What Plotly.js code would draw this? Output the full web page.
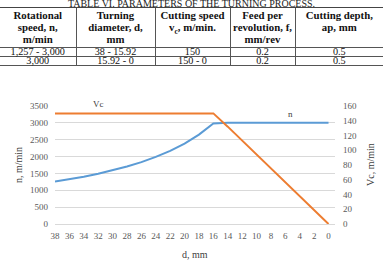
<!DOCTYPE html>
<html>
<head>
<meta charset="utf-8">
<script src="https://cdn.plot.ly/plotly-3.0.1.min.js"></script>
<style>
  html, body { margin: 0; padding: 0; background: #fff; }
  body { width: 383px; height: 262px; position: relative; overflow: hidden; font-family: "Liberation Serif", "Times New Roman", serif; }
  #cap { position: absolute; left: 0; top: 0px; width: 383px; text-align: center; font-size: 10px; line-height: 8px; color: #222; white-space: nowrap; }
  #tbl { position: absolute; left: 0; top: 7px; border-collapse: collapse; font-size: 10.2px; color: #111; table-layout: fixed; }
  #tbl td, #tbl th { padding: 0; text-align: center; border-left: 1px solid #555; border-bottom: 1px solid #555; white-space: nowrap; }
  #tbl tr > :first-child { border-left: none; }
  #tbl th { font-weight: bold; font-size: 10.8px; line-height: 12px; height: 38px; vertical-align: top; padding-top: 1px; border-top: 1.5px solid #444; }
  #tbl td { height: 8px; line-height: 8px; }
  #chart { position: absolute; left: 0; top: 0; width: 383px; height: 262px; }
</style>
</head>
<body>
<div id="chart"></div>
<div id="cap">TABLE VI. PARAMETERS OF THE TURNING PROCESS.</div>
<table id="tbl">
  <colgroup><col style="width:76px"><col style="width:79px"><col style="width:75px"><col style="width:65px"><col style="width:88px"></colgroup>
  <tr>
    <th>Rotational<br>speed, n,<br>m/min</th>
    <th>Turning<br>diameter, d,<br>mm</th>
    <th>Cutting speed<br>v<sub style="font-size:7.5px;line-height:0">c</sub>, m/min.</th>
    <th>Feed per<br>revolution, f,<br>mm/rev</th>
    <th>Cutting depth,<br>ap, mm</th>
  </tr>
  <tr><td>1,257 - 3,000</td><td>38 - 15.92</td><td>150</td><td>0.2</td><td>0.5</td></tr>
  <tr><td>3,000</td><td>15.92 - 0</td><td>150 - 0</td><td>0.2</td><td>0.5</td></tr>
</table>
<script>
// Turning diameter d, mm (axis runs from 38 down to 0)
const diameter = [38, 36, 34, 32, 30, 28, 26, 24, 22, 20, 18, 16, 14, 12, 10, 8, 6, 4, 2, 0];
// Spindle speed n, rev/min
const speedN = [1257, 1326, 1404, 1492, 1592, 1705, 1836, 1989, 2170, 2387, 2653, 2984,
                3000, 3000, 3000, 3000, 3000, 3000, 3000, 3000];
// Cutting speed Vc, m/min
const cuttingVc = [150, 150, 150, 150, 150, 150, 150, 150, 150, 150, 150, 150,
                   132, 113, 94, 75, 57, 38, 19, 0];
const xTicks = [38, 36, 34, 32, 30, 28, 26, 24, 22, 20, 18, 16, 14, 12, 10, 8, 6, 4, 2, 0];

const serif = "Liberation Serif, Times New Roman, serif";
const tickFont = { family: serif, size: 9, color: "#595959" };
const titleFont = { family: serif, size: 10, color: "#404040" };

const traces = [
  { x: diameter, y: speedN, name: "n", mode: "lines", line: { color: "#5B9BD5", width: 2 }, yaxis: "y" },
  { x: diameter, y: cuttingVc, name: "Vc", mode: "lines", line: { color: "#ED7D31", width: 2 }, yaxis: "y2" }
];

const layout = {
  width: 383, height: 262,
  margin: { l: 55, r: 48, t: 106, b: 38 },
  paper_bgcolor: "rgba(0,0,0,0)", plot_bgcolor: "#fff",
  showlegend: false,
  xaxis: {
    range: [38, -0.9], tickvals: xTicks, ticktext: xTicks.map(String),
    showgrid: false, zeroline: false, showline: true, linecolor: "#D9D9D9", linewidth: 1,
    ticks: "", tickfont: tickFont, ticklabelstandoff: 3
  },
  yaxis: {
    range: [0, 3500], dtick: 500, showgrid: true, gridcolor: "#D9D9D9", gridwidth: 1,
    zeroline: false, showline: false, ticks: "", tickfont: tickFont, ticklabelstandoff: 6
  },
  yaxis2: {
    overlaying: "y", side: "right", range: [0, 160], dtick: 20, showgrid: false,
    zeroline: false, showline: false, ticks: "", tickfont: tickFont, ticklabelstandoff: 7
  },
  annotations: [
    // axis titles
    { xref: "paper", yref: "paper", x: 0, y: 0.5, xshift: -37, xanchor: "center", yanchor: "middle",
      text: "n, m/min", textangle: -90, showarrow: false, font: titleFont },
    { xref: "paper", yref: "paper", x: 1, y: 0.5, xshift: 35, xanchor: "center", yanchor: "middle",
      text: "Vc, m/min", textangle: -90, showarrow: false, font: titleFont },
    { xref: "paper", yref: "paper", x: 0.5, y: 0, yshift: -30, xanchor: "center", yanchor: "middle",
      text: "d, mm", showarrow: false, font: titleFont },
    // series labels
    { x: diameter[3], y: cuttingVc[3], yref: "y2", text: "Vc", showarrow: false, yshift: 9,
      font: { family: serif, size: 9, color: "#404040" } },
    { x: diameter[16] - 0.7, y: speedN[16], yref: "y", text: "n", showarrow: false, yshift: 9,
      font: { family: serif, size: 9, color: "#404040" } }
  ]
};

Plotly.newPlot("chart", traces, layout, { staticPlot: true, displayModeBar: false });
</script>
</body>
</html>
